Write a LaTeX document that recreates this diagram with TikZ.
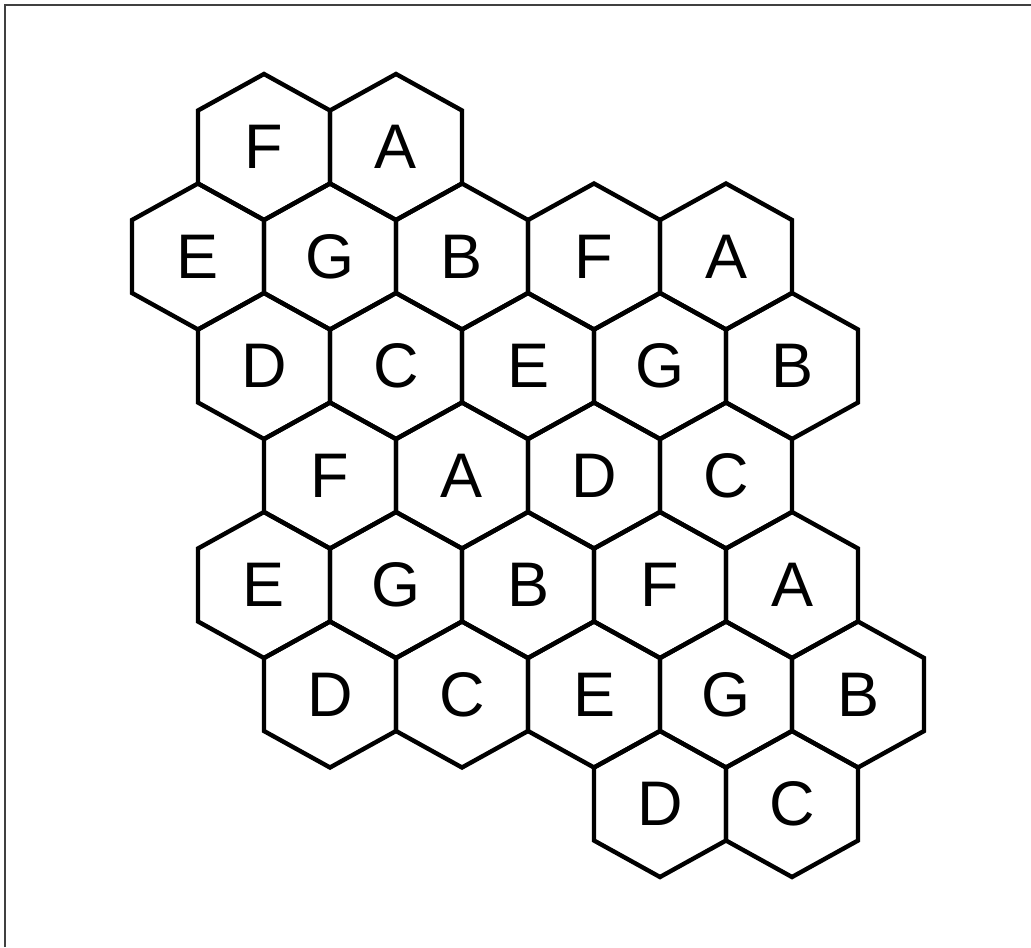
\documentclass[tikz,border=0pt]{standalone}
\usepackage{fontspec}
\setmainfont{Liberation Sans}
\begin{document}
\begin{tikzpicture}[x=0.5pt, y=-0.5pt,
    hexcell/.style={draw, line width=2.2pt, line join=miter},
    hexlabel/.style={font=\fontsize{31.5}{36}\selectfont, inner sep=0pt}]
  \useasboundingbox (0,0) rectangle (1031,947);
  \draw[black!75, line width=1pt] (5,947) -- (5,5) -- (1031,5);
  % cells: column (in half widths) / row / letter
  \foreach \k/\r/\l in {4/1/F, 6/1/A,
      3/2/E, 5/2/G, 7/2/B, 9/2/F, 11/2/A,
      4/3/D, 6/3/C, 8/3/E, 10/3/G, 12/3/B,
      5/4/F, 7/4/A, 9/4/D, 11/4/C,
      4/5/E, 6/5/G, 8/5/B, 10/5/F, 12/5/A,
      5/6/D, 7/6/C, 9/6/E, 11/6/G, 13/6/B,
      10/7/D, 12/7/C}
    {
      \pgfmathsetmacro{\cx}{66*\k}
      \pgfmathsetmacro{\cy}{147+109.5*(\r-1)}
      \coordinate (c-\r-\k) at (\cx,\cy);
      \draw[hexcell] (c-\r-\k) +(0,-73) -- +(66,-36.5) -- +(66,36.5) -- +(0,73)
        -- +(-66,36.5) -- +(-66,-36.5) -- cycle;
      \node[hexlabel] (hex-\r-\k) at (c-\r-\k) {\l};
    }
\end{tikzpicture}
\end{document}
